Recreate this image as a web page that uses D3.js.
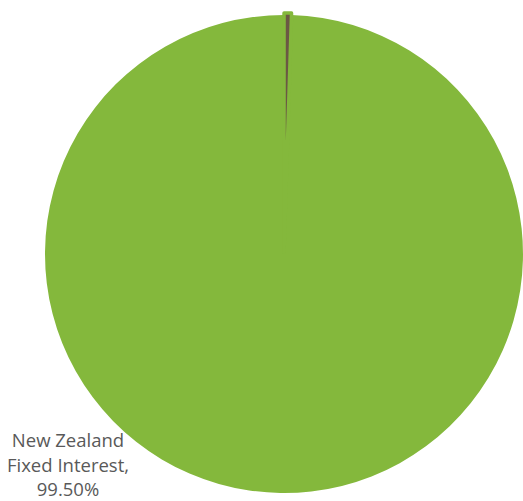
<!DOCTYPE html>
<html>
<head>
<meta charset="utf-8">
<script src="https://cdn.jsdelivr.net/npm/d3@7"></script>
<style>
  body { margin: 0; background: #fff; }
  svg { display: block; }
</style>
</head>
<body>
<svg id="chart" width="523" height="501"></svg>
<script>
// ===== pie: portfolio split =====
var categories = ["Other", "New Zealand Fixed Interest"];
var values = [0.5, 99.5];
var colours = ["#6b5844", "#84b83c"];
var labelLines = [["New Zealand", "Fixed Interest,", "99.50%"]];

var width = 523, height = 501;
var cx = 284, cy = 254, radius = 239;

var svg = d3.select("#chart");
var g = svg.append("g").attr("transform", "translate(" + cx + "," + cy + ")");

var pie = d3.pie().sort(null).value(function(d) { return d; });
var arcs = pie(values);
var arc = d3.arc().innerRadius(0).outerRadius(radius);

// Big slice first, small exploded slice on top
g.selectAll(".slice")
  .data(arcs.slice().reverse())
  .join("path")
  .attr("class", "slice")
  .attr("transform", function(d) {
    if (d.index !== 0) return null;
    var mid = (d.startAngle + d.endAngle) / 2;
    return "translate(" + (Math.sin(mid) * 2) + "," + (-Math.cos(mid) * 2) + ")";
  })
  .attr("d", arc)
  .attr("fill", function(d) { return colours[d.index]; })
  .attr("stroke", function(d) { return d.index === 0 ? colours[1] : "none"; })
  .attr("stroke-width", 3.5)
  .attr("stroke-linejoin", "round");

// Data label for the big slice
var label = svg.append("text")
  .attr("x", 68).attr("y", 447)
  .attr("text-anchor", "middle")
  .attr("font-family", "'Open Sans', 'Noto Sans', sans-serif")
  .attr("font-size", 18.5)
  .attr("fill", "#595959");

label.selectAll("tspan")
  .data(labelLines[0])
  .join("tspan")
  .attr("x", 68)
  .attr("dy", function(d, i) { return i === 0 ? 0 : 24.5; })
  .text(function(d) { return d; });
</script>
</body>
</html>
